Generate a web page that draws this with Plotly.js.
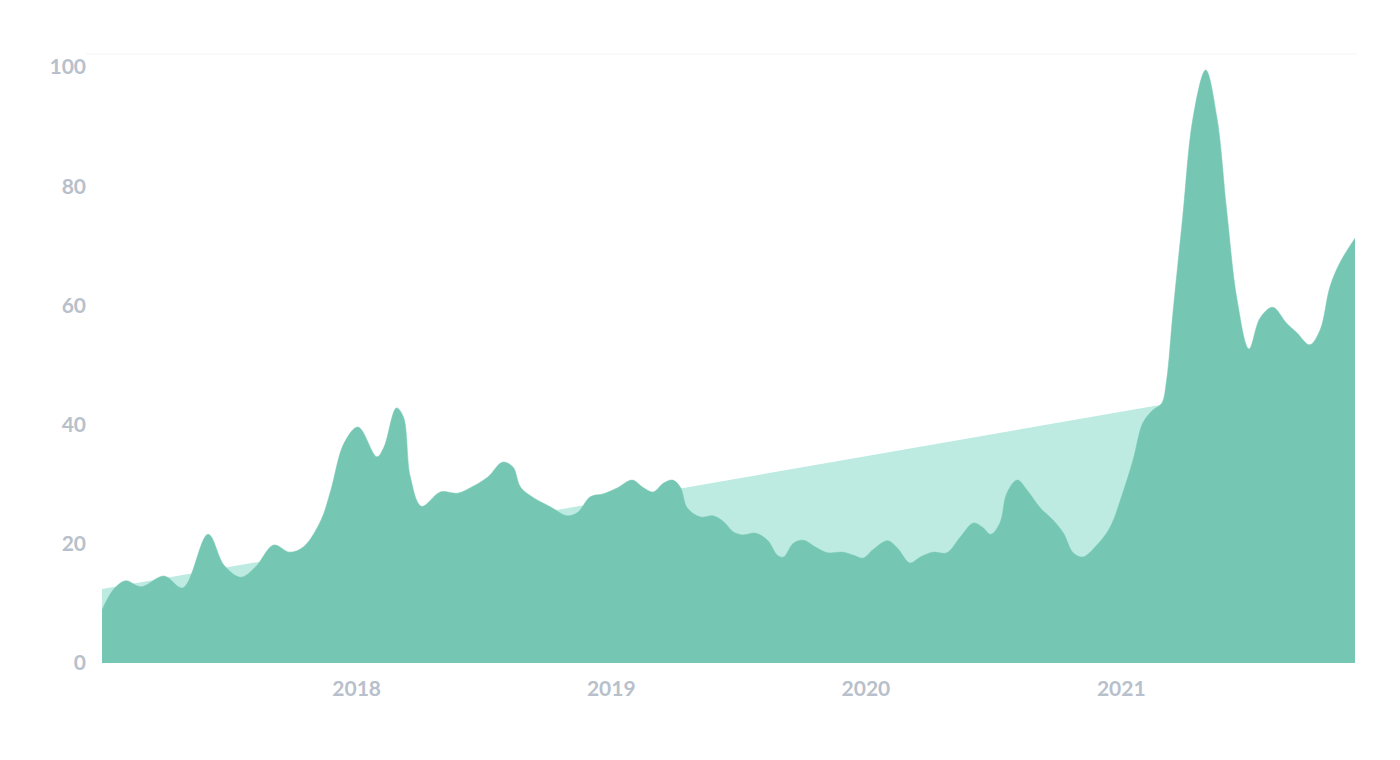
<!DOCTYPE html>
<html>
<head>
<meta charset="utf-8">
<script src="https://cdn.plot.ly/plotly-3.0.1.min.js"></script>
<style>
  html, body { margin: 0; padding: 0; background: #ffffff; }
  #chart { width: 1400px; height: 760px; }
</style>
</head>
<body>
<div id="chart"></div>
<script>
// Interest over time (weekly index, 0-100)
const dates = [
  "2017-01-01","2017-01-18","2017-02-04","2017-02-26","2017-03-31","2017-04-27",
  "2017-06-02","2017-06-25","2017-07-19","2017-08-09","2017-09-04","2017-09-27",
  "2017-10-17","2017-11-11","2017-11-25","2017-12-14","2018-01-03","2018-01-30",
  "2018-02-09","2018-02-27","2018-03-09","2018-03-19","2018-04-04","2018-05-01",
  "2018-05-26","2018-06-13","2018-07-08","2018-07-29","2018-08-13","2018-08-24",
  "2018-09-12","2018-10-06","2018-10-30","2018-11-14","2018-12-02","2018-12-21",
  "2019-01-10","2019-01-31","2019-02-15","2019-03-02","2019-03-17","2019-03-30",
  "2019-04-10","2019-04-20","2019-05-09","2019-05-27","2019-06-11","2019-06-25",
  "2019-07-09","2019-07-26","2019-08-13","2019-08-27","2019-09-05","2019-09-19",
  "2019-10-03","2019-10-23","2019-11-07","2019-11-29","2019-12-14","2019-12-28",
  "2020-01-11","2020-02-01","2020-02-15","2020-03-04","2020-03-19","2020-04-06",
  "2020-04-26","2020-05-15","2020-06-03","2020-06-16","2020-06-28","2020-07-11",
  "2020-07-21","2020-08-05","2020-08-19","2020-09-07","2020-09-25","2020-10-10",
  "2020-10-24","2020-11-07","2020-11-27","2020-12-16","2021-01-03","2021-01-18",
  "2021-02-01","2021-02-15","2021-02-28","2021-03-07","2021-03-16","2021-03-30",
  "2021-04-14","2021-05-02","2021-05-18","2021-06-01","2021-06-16","2021-07-03",
  "2021-07-19","2021-08-06","2021-08-26","2021-09-10","2021-09-28","2021-10-13",
  "2021-10-27","2021-11-10","2021-12-02"
];
const interest = [
  8.9, 12.4, 13.8, 12.8, 14.6, 12.6,
  21.6, 16.4, 14.4, 16.1, 19.8, 18.6,
  19.5, 24.0, 29.0, 36.9, 39.6, 34.6,
  36.2, 42.8, 41.3, 31.2, 26.3, 28.7,
  28.5, 29.4, 31.2, 33.7, 32.9, 29.5,
  27.7, 26.2, 24.7, 25.3, 27.9, 28.4,
  29.4, 30.7, 29.5, 28.7, 30.2, 30.7,
  29.5, 26.0, 24.5, 24.7, 23.7, 22.0,
  21.5, 21.8, 20.6, 18.1, 17.8, 20.1,
  20.6, 19.3, 18.5, 18.6, 18.1, 17.6,
  19.0, 20.5, 19.3, 16.8, 17.8, 18.6,
  18.5, 21.1, 23.5, 22.8, 21.6, 23.5,
  28.5, 30.7, 29.0, 26.0, 24.0, 21.8,
  18.5, 17.8, 19.8, 22.8, 28.5, 34.1,
  40.3, 42.4, 43.6, 47.5, 58.7, 74.8,
  91.6, 99.5, 91.6, 76.0, 60.9, 52.7,
  57.9, 59.7, 57.0, 55.4, 53.4, 55.9,
  63.1, 67.1, 71.3
];
// Linear trend (start and end values)
const trendDates = ["2017-01-01", "2021-12-02"];
const trendValues = [12.4, 49.0];

const yTicks = [0, 20, 40, 60, 80, 100];
const xTicks = ["2018-01-01", "2019-01-01", "2020-01-01", "2021-01-01"];
const xTickText = ["2018", "2019", "2020", "2021"];

const traces = [
  {
    x: trendDates, y: trendValues, type: "scatter", mode: "lines",
    fill: "tozeroy", fillcolor: "#bdebe2",
    line: { width: 0, color: "#bdebe2" },
    hoverinfo: "skip"
  },
  {
    x: dates, y: interest, type: "scatter", mode: "lines",
    fill: "tozeroy", fillcolor: "#75c7b3",
    line: { shape: "spline", smoothing: 1, width: 0.5, color: "#75c7b3" },
    hoverinfo: "skip"
  }
];

const tickFont = { family: "Lato, 'Open Sans', sans-serif", size: 21, color: "#b8c0cb", weight: 700 };

const layout = {
  width: 1400, height: 760,
  margin: { l: 102, r: 45, t: 54, b: 97 },
  paper_bgcolor: "#ffffff", plot_bgcolor: "#ffffff",
  showlegend: false,
  xaxis: {
    type: "date",
    range: ["2017-01-01", "2021-12-02"],
    tickvals: xTicks, ticktext: xTickText,
    showgrid: false, zeroline: false, showline: false, ticks: "",
    ticklabelstandoff: 11,
    tickfont: tickFont, fixedrange: true
  },
  yaxis: {
    range: [0, 102.2],
    tickvals: yTicks,
    showgrid: false, zeroline: false, showline: false, ticks: "",
    ticklabelstandoff: 15,
    tickfont: tickFont, fixedrange: true
  },
  shapes: [
    { type: "line", xref: "paper", yref: "paper", x0: -0.013, x1: 1.002, y0: 1, y1: 1,
      line: { color: "#f4f5f6", width: 1 } }
  ]
};

Plotly.newPlot("chart", traces, layout, { displayModeBar: false, staticPlot: true });
</script>
</body>
</html>
